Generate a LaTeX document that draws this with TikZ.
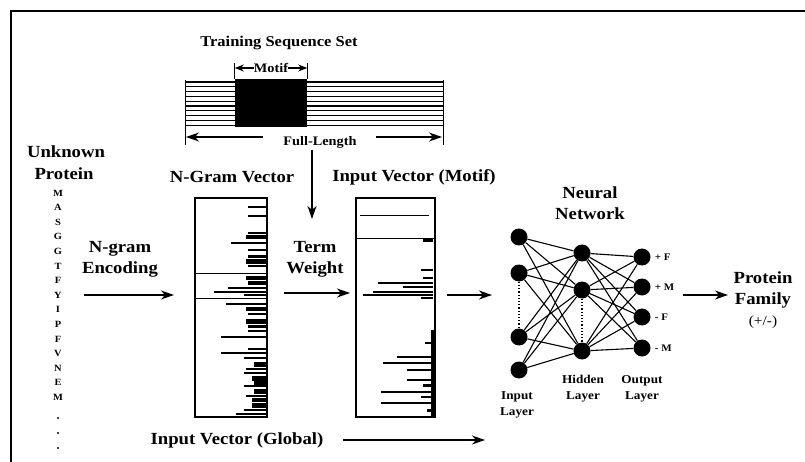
\documentclass[tikz,border=0pt]{standalone}
\usepackage{fontspec}
\setmainfont{Liberation Serif}[FakeStretch=1.1]
\usepackage{tikz}
\usetikzlibrary{positioning}
\usetikzlibrary{arrows.meta}
\tikzset{
  flowchart/.style={
    x=1pt, y=-1pt,
    big label/.style={font={\bfseries\fontsize{17}{21}\selectfont},align=center,inner sep=0pt},
    mid label/.style={font={\bfseries\fontsize{13}{15}\selectfont},align=center,inner sep=0pt},
    small label/.style={font={\bfseries\fontsize{12}{16}\selectfont},align=center,inner sep=0pt},
    residue/.style={font={\bfseries\fontsize{9.5}{10}\selectfont},inner sep=0pt},
    flow/.style={-{Stealth[length=13pt,width=9pt,inset=4pt]},line width=1.5pt},
    thin flow/.style={-{Stealth[length=9pt,width=7pt,inset=3pt]},line width=1.2pt},
    vec box/.style={draw,line width=1.3pt,minimum width=72pt,minimum height=219pt,inner sep=0pt},
    unit/.style={circle,fill=black,minimum size=17pt,inner sep=0pt},
    link/.style={line width=1.1pt},
  }
}
% bars of a term vector: right edge x, then y/length/width
\newcommand{\vecbars}[2]{
    \foreach \y/\l/\w in {#2}
        \draw[line width=\w pt] (#1,\y) -- ++(-\l,0);
}

\begin{document}
\begin{tikzpicture}[flowchart]
    \useasboundingbox (0,0) rectangle (805,462);
    \draw[line width=1.3pt] (11,462) -- (11,11) -- (805,11);

    % training set
    \node[big label,font={\bfseries\fontsize{15}{18}\selectfont}] (tss) at (279,43) {Training Sequence Set};
    \foreach \k in {0,...,9}
        \draw[line width=1.1pt] (185,{82+4.8*\k}) -- (443,{82+4.8*\k});
    \node[fill=black,minimum width=72pt,minimum height=48pt,inner sep=0pt] (motif) at (271,103) {};
    \draw[line width=1pt] (185,80) -- (185,145);
    \draw[line width=1pt] (443,80) -- (443,145);
    \draw[line width=1pt] (motif.north west) -- ++(0,-16);
    \draw[line width=1pt] (motif.north east) -- ++(0,-16);
    \node[mid label] (motiflbl) at (271,68) {Motif};
    \draw[thin flow] (motiflbl.west) -- (motiflbl.west -| motif.west);
    \draw[thin flow] (motiflbl.east) -- (motiflbl.east -| motif.east);
    \node[mid label] (full) at (320,142) {Full-Length};
    \coordinate (fullL) at (186,137);
    \coordinate (fullR) at (442,137);
    \draw[flow] (263,137) -- (fullL);
    \draw[flow] (376,137) -- (fullR);

    % unknown protein
    \node[big label] (unknown) at (66,152) {Unknown};
    \node[big label] (protein) at (64,174) {Protein};
    \foreach \a [count=\k] in {M,A,S,G,G,T,F,Y,I,P,F,V,N,E,M}
        \node[residue] (aa\k) at (58,{193+14.6*(\k-1)}) {\a};
    \foreach \k in {0,1,2}
        \fill (58,{418+15*\k}) circle (1.1pt);

    % n-gram encoding
    \node[big label] (ngram) at (120,259) {N-gram\\Encoding};
    \coordinate (encA) at (84,295);
    \coordinate (encB) at (174,295);
    \draw[flow] (encA) -- (encB);

    % n-gram vector
    \node[big label] (nvlbl) at (232,177) {N-Gram Vector};
    \node[vec box] (nvec) at (231,307.5) {};
    \draw[line width=1pt] (nvec.west |- 0,273) -- (nvec.east |- 0,273);
    \draw[line width=1pt] (nvec.west |- 0,298) -- (nvec.east |- 0,298);
    \vecbars{266}{207/18/1.2, 216/18/1.2, 233/18/2, 237/20/4, 243/35/1.2, 250/18/1.2,
        256/18/3, 261/20/5, 266/18/1.5, 278/20/4, 283/18/4, 288/38/1.2, 292/52/1.2,
        295/22/2, 304/40/1.2, 309/20/4, 314/18/2, 321/20/5, 326/18/3, 331/18/1.2,
        337/45/1.2, 349/18/1.2, 353/45/1.2, 358/22/2, 364/12/5, 369/20/2, 373/22/1.2,
        378/14/5, 383/12/4, 386/22/1.2, 391/12/5, 396/20/2, 400/14/4, 405/14/5,
        410/22/1.5, 414/30/1.2}

    % term weight
    \coordinate (twA) at (312,150);
    \coordinate (twB) at (312,219);
    \draw[flow] (twA) -- (twB);
    \node[big label] (tw) at (315,259) {Term\\Weight};
    \coordinate (twC) at (284,293);
    \coordinate (twD) at (350,293);
    \draw[flow] (twC) -- (twD);

    % motif vector
    \node[big label] (mvlbl) at (414,177) {Input Vector (Motif)};
    \node[vec box,minimum width=79pt] (mvec) at (395.5,307.5) {};
    \draw[line width=1pt] (360,216) -- (429,216);
    \draw[line width=1pt] (mvec.west |- 0,239) -- (mvec.east |- 0,239);
    \draw[line width=3pt] (432.5,330) -- (432.5,416);
    \vecbars{433}{241/10/3, 270/12/1.2, 278/10/1.2, 283/55/1.2, 287/30/1.2,
        292/60/1.2, 295/70/1.2, 298/12/2, 343/8/1.2, 357/36/1.2, 363/50/1.2,
        370/26/1.2, 380/26/2, 385/10/3, 392/52/1.2, 397/12/1.2, 403/52/1.5, 410/6/3}

    % neural network
    \node[big label] (nnlbl) at (590,203) {Neural\\Network};
    \coordinate (nnA) at (447,295);
    \coordinate (nnB) at (492,295);
    \draw[flow] (nnA) -- (nnB);
    \foreach \y [count=\k] in {237,273,337,370}
        \node[unit] (i\k) at (519,\y) {};
    \foreach \y [count=\k] in {253,290,351}
        \node[unit] (h\k) at (582,\y) {};
    \foreach \y [count=\k] in {257,287,317,348}
        \node[unit] (o\k) at (642,\y) {};
    \foreach \a in {1,...,4}
        \foreach \b in {1,2,3}
            \draw[link] (i\a) -- (h\b);
    \foreach \b in {1,2,3}
        \foreach \c in {1,...,4}
            \draw[link] (h\b) -- (o\c);
    \draw[line width=1.2pt,dotted] (i2) -- (i3);
    \draw[line width=1.2pt,dotted] (h2) -- (h3);
    \foreach \t [count=\k] in {+ F,+ M,- F,- M}
        \node[anchor=west,inner sep=0pt,font={\bfseries\fontsize{10}{11}\selectfont}] (out\k) at ([xshift=4pt]o\k.east) {\t};
    \node[small label] (inlayer) at (517,405) {Input\\Layer};
    \node[small label] (hidlayer) at (583,389) {Hidden\\Layer};
    \node[small label] (outlayer) at (642,389) {Output\\Layer};

    % protein family
    \coordinate (pfA) at (683,295);
    \coordinate (pfB) at (728,295);
    \draw[flow] (pfA) -- (pfB);
    \node[big label] (family) at (763,300) {Protein\\Family\\{\mdseries\fontsize{14}{15}\selectfont(+/-)}};

    % global input
    \node[big label] (global) at (237,440) {Input Vector (Global)};
    \coordinate (glA) at (343,440);
    \coordinate (glB) at (485,440);
    \draw[flow] (glA) -- (glB);
\end{tikzpicture}
\end{document}
